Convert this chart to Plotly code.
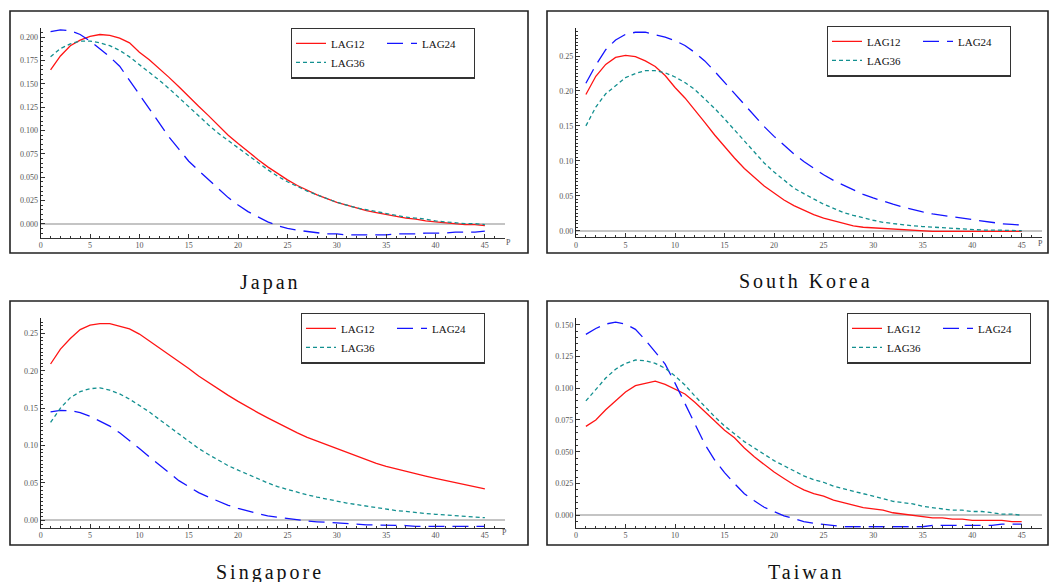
import plotly.graph_objects as go

W, H = 1050, 582

# ---------------- data ----------------
P = list(range(1, 46))

japan_lag12 = [0.165, 0.180, 0.191, 0.197, 0.201, 0.203, 0.202, 0.199, 0.194, 0.184,
               0.176, 0.167, 0.157, 0.147, 0.136, 0.126, 0.116, 0.105, 0.095, 0.086,
               0.077, 0.069, 0.061, 0.054, 0.047, 0.041, 0.036, 0.031, 0.027, 0.023,
               0.020, 0.017, 0.014, 0.012, 0.010, 0.008, 0.006, 0.005, 0.003, 0.002,
               0.001, 0.000, -0.001, -0.001, -0.002]
japan_lag24 = [0.206, 0.208, 0.207, 0.203, 0.196, 0.188, 0.179, 0.169, 0.154, 0.138,
               0.124, 0.108, 0.093, 0.080, 0.067, 0.057, 0.047, 0.037, 0.028, 0.020,
               0.013, 0.0075, 0.002, -0.002, -0.005, -0.007, -0.0085, -0.010, -0.011, -0.011,
               -0.012, -0.012, -0.012, -0.012, -0.012, -0.011, -0.011, -0.011, -0.010, -0.010,
               -0.010, -0.009, -0.009, -0.009, -0.008]
japan_lag36 = [0.179, 0.188, 0.193, 0.196, 0.196, 0.194, 0.191, 0.186, 0.179, 0.171,
               0.163, 0.154, 0.145, 0.135, 0.126, 0.116, 0.106, 0.097, 0.089, 0.081,
               0.073, 0.065, 0.058, 0.051, 0.045, 0.040, 0.035, 0.031, 0.027, 0.023,
               0.020, 0.017, 0.015, 0.013, 0.011, 0.009, 0.007, 0.006, 0.005, 0.003,
               0.002, 0.001, 0.000, 0.000, -0.001]

korea_lag12 = [0.195, 0.221, 0.238, 0.248, 0.251, 0.249, 0.243, 0.235, 0.222, 0.205,
               0.190, 0.173, 0.155, 0.137, 0.120, 0.104, 0.089, 0.076, 0.064, 0.054,
               0.044, 0.036, 0.029, 0.023, 0.018, 0.014, 0.010, 0.007, 0.005, 0.004,
               0.003, 0.002, 0.001, 0.000, 0.000, -0.001, -0.001, -0.001, -0.001, -0.001,
               -0.001, -0.001, -0.001, -0.001, -0.001]
korea_lag24 = [0.211, 0.237, 0.259, 0.273, 0.281, 0.284, 0.284, 0.281, 0.277, 0.272,
               0.265, 0.255, 0.243, 0.228, 0.212, 0.196, 0.180, 0.164, 0.149, 0.135,
               0.122, 0.110, 0.099, 0.089, 0.080, 0.072, 0.065, 0.058, 0.052, 0.047,
               0.042, 0.038, 0.034, 0.030, 0.027, 0.024, 0.022, 0.019, 0.017, 0.015,
               0.013, 0.012, 0.010, 0.009, 0.008]
korea_lag36 = [0.150, 0.177, 0.196, 0.208, 0.219, 0.225, 0.229, 0.229, 0.226, 0.220,
               0.212, 0.202, 0.189, 0.175, 0.160, 0.144, 0.128, 0.112, 0.097, 0.084,
               0.072, 0.061, 0.053, 0.045, 0.038, 0.032, 0.026, 0.022, 0.018, 0.015,
               0.012, 0.010, 0.008, 0.007, 0.006, 0.005, 0.004, 0.003, 0.002, 0.0015,
               0.001, 0.001, 0.0005, 0.000, 0.000]

singapore_lag12 = [0.209, 0.229, 0.243, 0.255, 0.261, 0.263, 0.263, 0.260, 0.256, 0.249,
                   0.240, 0.231, 0.222, 0.212, 0.203, 0.193, 0.184, 0.175, 0.167, 0.159,
                   0.151, 0.144, 0.137, 0.130, 0.124, 0.117, 0.111, 0.106, 0.100, 0.095,
                   0.090, 0.085, 0.081, 0.076, 0.072, 0.069, 0.066, 0.062, 0.059, 0.056,
                   0.053, 0.050, 0.047, 0.045, 0.042]
singapore_lag24 = [0.145, 0.147, 0.1466, 0.144, 0.139, 0.133, 0.126, 0.117, 0.107, 0.096,
                   0.085, 0.074, 0.063, 0.053, 0.045, 0.037, 0.031, 0.025, 0.020, 0.016,
                   0.012, 0.009, 0.006, 0.004, 0.002, 0.001, -0.001, -0.002, -0.003, -0.004,
                   -0.005, -0.005, -0.006, -0.006, -0.007, -0.007, -0.007, -0.008, -0.008, -0.008,
                   -0.008, -0.008, -0.008, -0.008, -0.008]
singapore_lag36 = [0.131, 0.150, 0.164, 0.172, 0.176, 0.177, 0.174, 0.169, 0.162, 0.154,
                   0.145, 0.135, 0.125, 0.115, 0.105, 0.096, 0.088, 0.080, 0.073, 0.067,
                   0.061, 0.055, 0.050, 0.045, 0.041, 0.037, 0.034, 0.031, 0.028, 0.025,
                   0.023, 0.021, 0.019, 0.017, 0.015, 0.013, 0.012, 0.010, 0.009, 0.008,
                   0.007, 0.006, 0.005, 0.004, 0.0035]

taiwan_lag12 = [0.070, 0.075, 0.083, 0.090, 0.097, 0.102, 0.104, 0.1055, 0.103, 0.0995,
                0.0955, 0.089, 0.0815, 0.074, 0.067, 0.061, 0.053, 0.046, 0.040, 0.034,
                0.029, 0.024, 0.020, 0.017, 0.015, 0.012, 0.010, 0.008, 0.006, 0.005,
                0.004, 0.002, 0.001, 0.000, -0.001, -0.002, -0.002, -0.003, -0.003, -0.004,
                -0.004, -0.004, -0.004, -0.005, -0.005]
taiwan_lag24 = [0.1424, 0.147, 0.1505, 0.152, 0.1505, 0.1463, 0.138, 0.1288, 0.119, 0.104,
                0.088, 0.071, 0.056, 0.0435, 0.0336, 0.025, 0.017, 0.0115, 0.0063, 0.003,
                -0.0005, -0.0026, -0.005, -0.0063, -0.0073, -0.008, -0.009, -0.009, -0.009, -0.009,
                -0.009, -0.009, -0.009, -0.009, -0.009, -0.008, -0.008, -0.008, -0.008, -0.008,
                -0.008, -0.008, -0.007, -0.007, -0.007]
taiwan_lag36 = [0.090, 0.0986, 0.108, 0.115, 0.1196, 0.1222, 0.1217, 0.1196, 0.1157, 0.1096,
                0.1025, 0.0939, 0.0855, 0.0776, 0.0703, 0.064, 0.058, 0.053, 0.048, 0.043,
                0.039, 0.035, 0.031, 0.028, 0.026, 0.023, 0.021, 0.019, 0.017, 0.015,
                0.013, 0.011, 0.010, 0.009, 0.007, 0.006, 0.005, 0.004, 0.004, 0.003,
                0.003, 0.002, 0.001, 0.001, 0.000]

countries = ["Japan", "South Korea", "Singapore", "Taiwan"]
series_names = ["LAG12", "LAG24", "LAG36"]
x_ticks = [0, 5, 10, 15, 20, 25, 30, 35, 40, 45]

# ---------------- styling / layout ----------------
SERIF = "Liberation Serif, Times New Roman, serif"
colors = {"LAG12": "#ff1414", "LAG24": "#1414ff", "LAG36": "#139090"}
dashes = {"LAG12": "solid", "LAG24": "16px,8px", "LAG36": "4px,3px"}
groups = {"LAG12": "a", "LAG24": "b", "LAG36": "a"}


def fx(px):
    return px / W


def fy(py):
    return 1 - py / H


# pixel geometry of each panel
panels = [
    dict(data=(japan_lag12, japan_lag24, japan_lag36),
         plot=(40.7, 504.6, 27.7, 237.7), yrange=(-0.0150, 0.2103), dtick=0.025, fmt=".3f",
         frame=(10, 528, 11, 253), legend=(291, 53), title=(270, 282), plabel=(508, 242)),
    dict(data=(korea_lag12, korea_lag24, korea_lag36),
         plot=(576, 1041.5, 27.7, 237.3), yrange=(-0.0094, 0.2905), dtick=0.05, fmt=".2f",
         frame=(547, 1048, 11, 253), legend=(827, 51), title=(806, 281), plabel=(1040, 243)),
    dict(data=(singapore_lag12, singapore_lag24, singapore_lag36),
         plot=(40.7, 504.6, 317.7, 527.7), yrange=(-0.0099, 0.2709), dtick=0.05, fmt=".2f",
         frame=(10, 528, 301, 545), legend=(301, 338), title=(270, 572), plabel=(504, 532)),
    dict(data=(taiwan_lag12, taiwan_lag24, taiwan_lag36),
         plot=(576, 1041.5, 317.7, 527.7), yrange=(-0.00976, 0.1555), dtick=0.025, fmt=".3f",
         frame=(547, 1048, 301, 545), legend=(847, 338), title=(806, 572), plabel=None),
]

fig = go.Figure()
layout = dict(width=W, height=H, autosize=False,
              margin=dict(l=0, r=0, t=0, b=0, autoexpand=False),
              paper_bgcolor="white", plot_bgcolor="white",
              showlegend=True, shapes=[], annotations=[])

for i, pn in enumerate(panels):
    k = "" if i == 0 else str(i + 1)
    xname, yname = "x" + k, "y" + k
    legname = "legend" + k
    for name, vals in zip(series_names, pn["data"]):
        fig.add_trace(go.Scatter(
            x=P, y=vals, mode="lines", name=name,
            xaxis=xname, yaxis=yname, legend=legname,
            legendgroup=f"{i}{groups[name]}",
            line=dict(color=colors[name], width=1.3, dash=dashes[name]),
        ))
    x0, x1, y0, y1 = pn["plot"]
    layout["xaxis" + k] = dict(
        domain=[fx(x0), fx(x1)], range=[0, 47], anchor=yname,
        showgrid=False, zeroline=False, showline=True, linecolor="#333", linewidth=1.3,
        ticks="inside", ticklen=4, tickwidth=1, tickcolor="#333",
        tickvals=x_ticks, ticktext=[str(v) for v in x_ticks],
        tickfont=dict(family=SERIF, size=8, color="#555"),
        minor=dict(dtick=1, ticks="inside", ticklen=2, tickcolor="#333", tickwidth=1, showgrid=False),
    )
    layout["yaxis" + k] = dict(
        domain=[fy(y1), fy(y0)], range=list(pn["yrange"]), anchor=xname,
        showgrid=False, zeroline=True, zerolinecolor="#c4c4c4", zerolinewidth=2,
        showline=True, linecolor="#222", linewidth=1.3,
        ticks="inside", ticklen=4, tickwidth=1, tickcolor="#333",
        dtick=pn["dtick"], tick0=0, tickformat=pn["fmt"],
        tickfont=dict(family=SERIF, size=8, color="#555"),
        minor=dict(dtick=0.005, ticks="inside", ticklen=2, tickcolor="#333", tickwidth=1, showgrid=False),
    )
    lx, ly = pn["legend"]
    layout[legname] = dict(
        x=fx(lx), y=fy(ly), xanchor="left", yanchor="middle", xref="paper", yref="paper",
        orientation="h", traceorder="grouped", entrywidth=46,
        bgcolor="white", bordercolor="#333", borderwidth=1.3,
        font=dict(family=SERIF, size=11, color="#111"),
        itemwidth=30,
    )
    fx0, fx1, fy0, fy1 = pn["frame"]
    layout["shapes"].append(dict(
        type="rect", xref="paper", yref="paper",
        x0=fx(fx0), x1=fx(fx1), y0=fy(fy1), y1=fy(fy0),
        line=dict(color="#222", width=1.6), fillcolor="rgba(0,0,0,0)", layer="below",
    ))
    tx, ty = pn["title"]
    layout["annotations"].append(dict(
        text=f'<span style="letter-spacing:3px">{countries[i]}</span>',
        xref="paper", yref="paper", x=fx(tx), y=fy(ty),
        xanchor="center", yanchor="middle", showarrow=False,
        font=dict(family=SERIF, size=20, color="#111"),
    ))
    if pn["plabel"] is not None:
        px_, py_ = pn["plabel"]
        layout["annotations"].append(dict(
            text="P", xref="paper", yref="paper", x=fx(px_), y=fy(py_),
            xanchor="center", yanchor="middle", showarrow=False,
            font=dict(family=SERIF, size=8, color="#555"),
        ))

fig.update_layout(**layout)
fig.write_html("out.html")
